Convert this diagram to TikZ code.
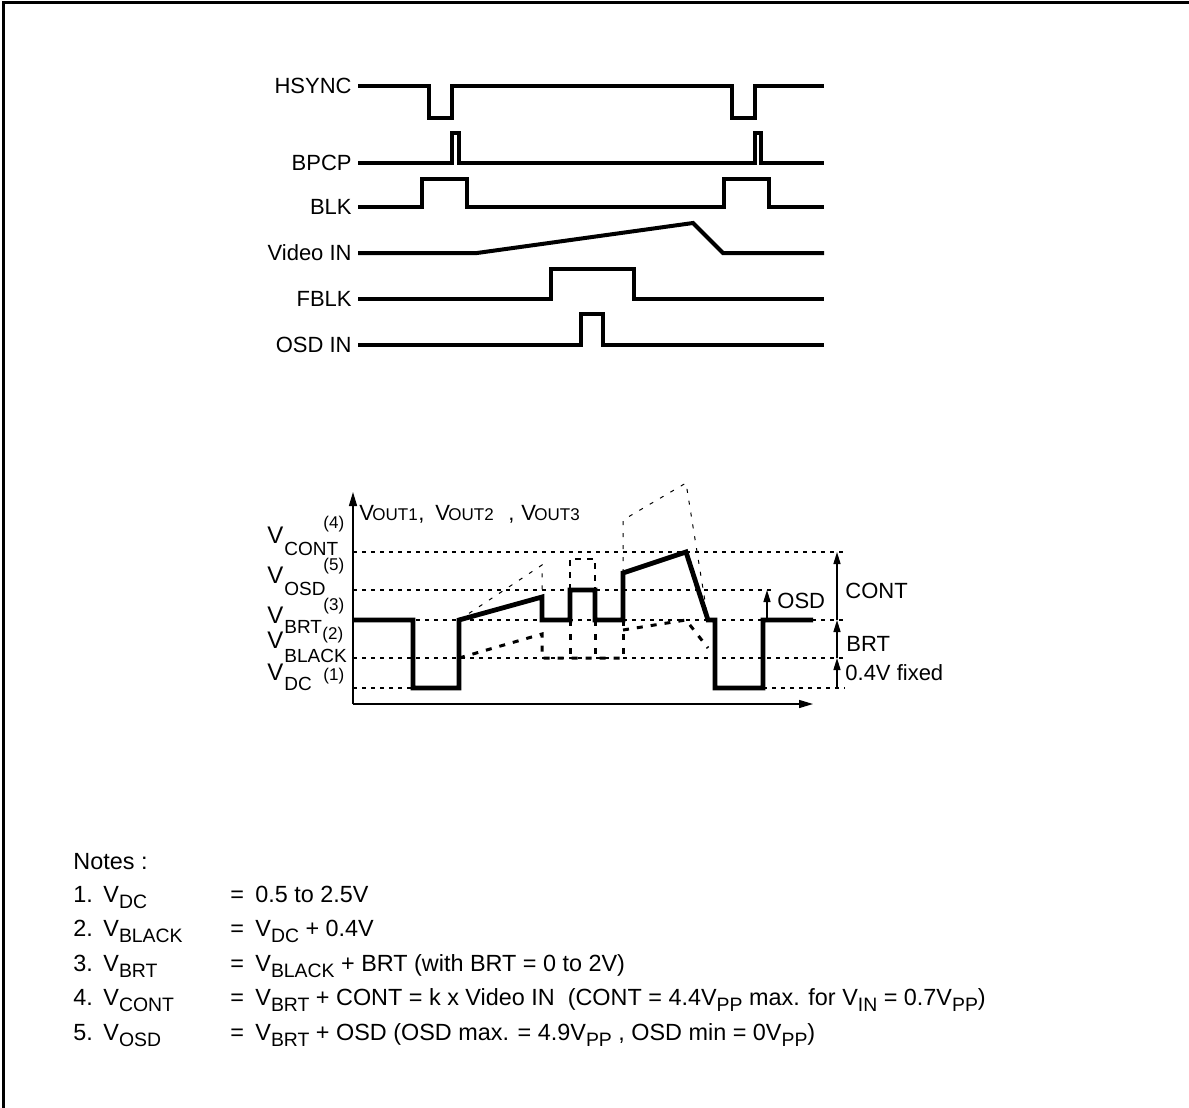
\documentclass[tikz,border=0pt]{standalone}
\usepackage{fontspec}
\setmainfont{Liberation Sans}
\usetikzlibrary{arrows.meta}
\newcommand{\sbs}[1]{\raisebox{-3.4pt}{\fontsize{9.7pt}{10pt}\selectfont #1}}
\begin{document}
\begin{tikzpicture}[x=0.5pt,y=-0.5pt,
  sig/.style={line width=2pt},
  wave/.style={line width=2.4pt},
  lvl/.style={line width=0.7pt, dash pattern=on 2pt off 2.5pt},
  env/.style={line width=0.5pt, dash pattern=on 2pt off 4pt},
  osdbox/.style={line width=0.8pt, dash pattern=on 3pt off 3pt},
  blkdot/.style={line width=1.5pt, dash pattern=on 3pt off 4pt},
  axis/.style={line width=0.7pt, -{Triangle[length=7pt,width=4pt]}},
  meas/.style={line width=0.7pt, -{Triangle[length=6pt,width=3.5pt]}},
  lbl/.style={font=\fontsize{11pt}{13pt}\selectfont, inner sep=0pt, anchor=east},
  txt/.style={font=\fontsize{11pt}{13pt}\selectfont, inner sep=0pt, anchor=base west},
  vbig/.style={font=\fontsize{12pt}{14pt}\selectfont, inner sep=0pt, anchor=base west},
  vsub/.style={font=\fontsize{9.5pt}{11pt}\selectfont, inner sep=0pt, anchor=base west},
  vsup/.style={font=\fontsize{8.5pt}{10pt}\selectfont, inner sep=0pt, anchor=base west},
  obig/.style={font=\fontsize{11pt}{13pt}\selectfont, inner sep=0pt, anchor=base west},
  osub/.style={font=\fontsize{8.5pt}{10pt}\selectfont, inner sep=0pt, anchor=base west},
  note/.style={font=\fontsize{11.7pt}{14pt}\selectfont, inner sep=0pt, anchor=base west}]
\useasboundingbox (0,0) rectangle (1189,1108);
% frame
\draw[line width=1.5pt] (3,1108) -- (3,2) -- (1189,2);

% ---------- timing signals ----------
\node[lbl] (lhs) at (352,86) {HSYNC};
\node[lbl] (lbp) at (352,163) {BPCP};
\node[lbl] (lbk) at (352,207) {BLK};
\node[lbl] (lvi) at (352,253) {Video IN};
\node[lbl] (lfb) at (352,299) {FBLK};
\node[lbl] (los) at (352,345) {OSD IN};

\draw[sig] (358,86) -- (429,86) -- (429,118) -- (452,118) -- (452,86) -- (732,86) -- (732,118) -- (755,118) -- (755,86) -- (824,86);
\draw[sig] (358,163) -- (452,163) -- (452,133) -- (459,133) -- (459,163) -- (755,163) -- (755,133) -- (761,133) -- (761,163) -- (824,163);
\draw[sig] (358,207) -- (422,207) -- (422,179) -- (467,179) -- (467,207) -- (724,207) -- (724,179) -- (769,179) -- (769,207) -- (824,207);
\draw[sig] (358,253) -- (477,253) -- (693,223) -- (723,253) -- (824,253);
\draw[sig] (358,299) -- (551,299) -- (551,269) -- (634,269) -- (634,299) -- (824,299);
\draw[sig] (358,345) -- (581,345) -- (581,314) -- (603,314) -- (603,345) -- (824,345);

% ---------- output waveform ----------
% level lines
\draw[lvl] (353,552) -- (845,552);
\draw[lvl] (353,590) -- (775,590);
\draw[lvl] (353,620) -- (845,620);
\draw[lvl] (353,658) -- (845,658);
\draw[lvl] (353,688) -- (413,688);
\draw[lvl] (763,688) -- (845,688);

% envelopes
\draw[env] (459,620) -- (542,565) -- (542,597);
\draw[osdbox] (570,590) -- (570,559) -- (595,559) -- (595,590);
\draw[env] (623,573) -- (623,520) -- (686,483) -- (708,620);

% black-level (dotted thick)
\draw[blkdot] (459,658) -- (542,634) -- (542,658) -- (623,658);
\draw[blkdot] (570,620) -- (570,658);
\draw[blkdot] (595,620) -- (595,658);
\draw[blkdot] (623,620) -- (623,658);
\draw[blkdot] (623,630) -- (686,620) -- (708,648);

% axes
\draw[axis] (353,704) -- (353,492);
\draw[axis] (353,704) -- (813,704);

% main waveform
\draw[wave] (353,620) -- (413,620) -- (413,688) -- (459,688) -- (459,620) -- (542,597) -- (542,620) -- (570,620) -- (570,590) -- (595,590) -- (595,620) -- (623,620) -- (623,573) -- (686,552) -- (708,620) -- (715,620) -- (715,688) -- (763,688) -- (763,620) -- (813,620);

% measurement arrows
\draw[meas] (837,620) -- (837,552);
\draw[meas] (837,658) -- (837,620);
\draw[meas] (837,688) -- (837,658);
\draw[meas] (767,620) -- (767,590);

\node[txt] (tcont) at (845,598) {CONT};
\node[txt] (tbrt) at (846,651) {BRT};
\node[txt] (tfix) at (845,680) {0.4V fixed};
\node[txt] (tosd) at (777,608) {OSD};

% axis title
\node[obig] (vo1) at (359,520) {V};
\node[osub] (vo1s) at (372,520) {OUT1};
\node[obig] (c1) at (418,520) {,};
\node[obig] (vo2) at (435,520) {V};
\node[osub] (vo2s) at (448,520) {OUT2};
\node[obig] (c2) at (508,520) {,};
\node[obig] (vo3) at (521,520) {V};
\node[osub] (vo3s) at (534,520) {OUT3};

% level labels
\node[vbig] (vcont) at (267,543) {V};
\node[vsub] (vconts) at (284,555) {CONT};
\node[vsup] (vcontp) at (323,528) {(4)};
\node[vbig] (vosd) at (267,583) {V};
\node[vsub] (vosds) at (284,595) {OSD};
\node[vsup] (vosdp) at (323,570) {(5)};
\node[vbig] (vbrt) at (267,623) {V};
\node[vsub] (vbrts) at (284,633) {BRT};
\node[vsup] (vbrtp) at (323,610) {(3)};
\node[vbig] (vblk) at (267,648) {V};
\node[vsub] (vblks) at (284,662) {BLACK};
\node[vsup] (vblkp) at (322,639) {(2)};
\node[vbig] (vdc) at (267,680) {V};
\node[vsub] (vdcs) at (284,690) {DC};
\node[vsup] (vdcp) at (323,680) {(1)};

% ---------- notes ----------
\node[note] (notes) at (73,869) {Notes :};
\node[note] (n1) at (73,902) {1.};
\node[note] (n1v) at (103,902) {V\sbs{DC}};
\node[note] (n1e) at (230,902) {=};
\node[note] (n1r) at (255,902) {0.5 to 2.5V};
\node[note] (n2) at (73,936) {2.};
\node[note] (n2v) at (103,936) {V\sbs{BLACK}};
\node[note] (n2e) at (230,936) {=};
\node[note] (n2r) at (255,936) {V\sbs{DC} + 0.4V};
\node[note] (n3) at (73,971) {3.};
\node[note] (n3v) at (103,971) {V\sbs{BRT}};
\node[note] (n3e) at (230,971) {=};
\node[note] (n3r) at (255,971) {V\sbs{BLACK} + BRT (with BRT = 0 to 2V)};
\node[note] (n4) at (73,1005) {4.};
\node[note] (n4v) at (103,1005) {V\sbs{CONT}};
\node[note] (n4e) at (230,1005) {=};
\node[note] (n4r) at (255,1005) {V\sbs{BRT} + CONT = k x Video IN\ \ (CONT = 4.4V\sbs{PP} max. for V\sbs{IN} = 0.7V\sbs{PP})};
\node[note] (n5) at (73,1040) {5.};
\node[note] (n5v) at (103,1040) {V\sbs{OSD}};
\node[note] (n5e) at (230,1040) {=};
\node[note] (n5r) at (255,1040) {V\sbs{BRT} + OSD (OSD max. = 4.9V\sbs{PP} , OSD min = 0V\sbs{PP})};
\end{tikzpicture}
\end{document}
